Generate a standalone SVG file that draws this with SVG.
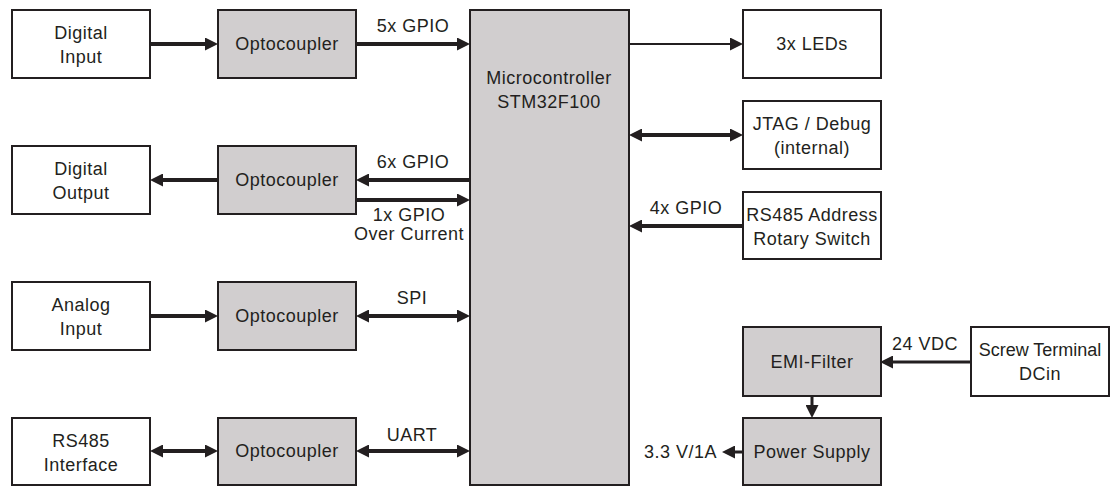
<svg xmlns="http://www.w3.org/2000/svg" width="1120" height="487" viewBox="0 0 1120 487">
<style>
.w{fill:#ffffff;stroke:#231f20;stroke-width:2}
.g{fill:#d1cecf;stroke:#231f20;stroke-width:2}
text{font-family:"Liberation Sans",Arial,sans-serif;font-size:18px;fill:#231f20;text-anchor:middle;letter-spacing:0.5px}
.c{stroke:#231f20;fill:none;stroke-linecap:butt}
.t4{stroke-width:4}
.t3{stroke-width:3}
.t2{stroke-width:2}
.e{marker-end:url(#ah)}
.b{marker-start:url(#ah);marker-end:url(#ah)}
</style>
<defs>
<marker id="ah" viewBox="0 0 13 13" refX="7" refY="6.5" markerWidth="13" markerHeight="13" markerUnits="userSpaceOnUse" orient="auto-start-reverse">
<path d="M0,0 L13,6.5 L0,13 z" fill="#231f20"/>
</marker>
</defs>
<rect width="1120" height="487" fill="#ffffff"/>
<g id="connectors">
<line class="c t4 e" x1="150" y1="44" x2="212" y2="44"/>
<line class="c t4 e" x1="356" y1="44" x2="464" y2="44"/>
<line class="c t4 e" x1="470" y1="180" x2="362" y2="180"/>
<line class="c t4 e" x1="356" y1="200" x2="464" y2="200"/>
<line class="c t4 e" x1="218" y1="180" x2="156" y2="180"/>
<line class="c t4 e" x1="150" y1="316" x2="212" y2="316"/>
<line class="c t4 b" x1="362" y1="316" x2="464" y2="316"/>
<line class="c t4 b" x1="156" y1="451" x2="212" y2="451"/>
<line class="c t4 b" x1="362" y1="451" x2="464" y2="451"/>
<line class="c t2 e" x1="629" y1="44" x2="737" y2="44"/>
<line class="c t4 b" x1="635" y1="135" x2="737" y2="135"/>
<line class="c t4 e" x1="743" y1="226" x2="635" y2="226"/>
<line class="c t3 e" x1="971" y1="362" x2="886" y2="362"/>
<line class="c t3 e" x1="812" y1="396" x2="812" y2="412"/>
<line class="c t3 e" x1="743" y1="452" x2="728" y2="452"/>
<text x="413" y="32">5x GPIO</text>
<text x="413" y="168">6x GPIO</text>
<text x="409" y="221">1x GPIO</text>
<text x="409" y="240">Over Current</text>
<text x="412" y="304">SPI</text>
<text x="412" y="441">UART</text>
<text x="686" y="214">4x GPIO</text>
<text x="925" y="350">24 VDC</text>
<text x="717" y="458" style="text-anchor:end">3.3 V/1A</text>
</g>
<g id="digital-input"><rect class="w" x="12" y="10" width="138" height="68"/><text x="81" y="39">Digital</text><text x="81" y="63">Input</text></g>
<g id="opto1"><rect class="g" x="218" y="10" width="138" height="68"/><text x="287" y="50">Optocoupler</text></g>
<g id="digital-output"><rect class="w" x="12" y="146" width="138" height="68"/><text x="81" y="175">Digital</text><text x="81" y="199">Output</text></g>
<g id="opto2"><rect class="g" x="218" y="146" width="138" height="68"/><text x="287" y="186">Optocoupler</text></g>
<g id="analog-input"><rect class="w" x="12" y="282" width="138" height="68"/><text x="81" y="311">Analog</text><text x="81" y="335">Input</text></g>
<g id="opto3"><rect class="g" x="218" y="282" width="138" height="68"/><text x="287" y="322">Optocoupler</text></g>
<g id="rs485-interface"><rect class="w" x="12" y="418" width="138" height="67"/><text x="81" y="447">RS485</text><text x="81" y="471">Interface</text></g>
<g id="opto4"><rect class="g" x="218" y="418" width="138" height="67"/><text x="287" y="457">Optocoupler</text></g>
<g id="mcu"><rect class="g" x="470" y="10" width="159" height="475"/><text x="549" y="84">Microcontroller</text><text x="549" y="108">STM32F100</text></g>
<g id="leds"><rect class="w" x="743" y="10" width="138" height="68"/><text x="812" y="50">3x LEDs</text></g>
<g id="jtag"><rect class="w" x="743" y="101" width="138" height="68"/><text x="812" y="130">JTAG / Debug</text><text x="812" y="154">(internal)</text></g>
<g id="rotary"><rect class="w" x="743" y="192" width="138" height="67"/><text x="812" y="221">RS485 Address</text><text x="812" y="245">Rotary Switch</text></g>
<g id="emi"><rect class="g" x="743" y="327" width="138" height="69"/><text x="812" y="368">EMI-Filter</text></g>
<g id="screw"><rect class="w" x="971" y="327" width="138" height="69"/><text x="1040" y="356" style="letter-spacing:0">Screw Terminal</text><text x="1040" y="380">DCin</text></g>
<g id="psu"><rect class="g" x="743" y="418" width="138" height="67"/><text x="812" y="458">Power Supply</text></g>
</svg>
